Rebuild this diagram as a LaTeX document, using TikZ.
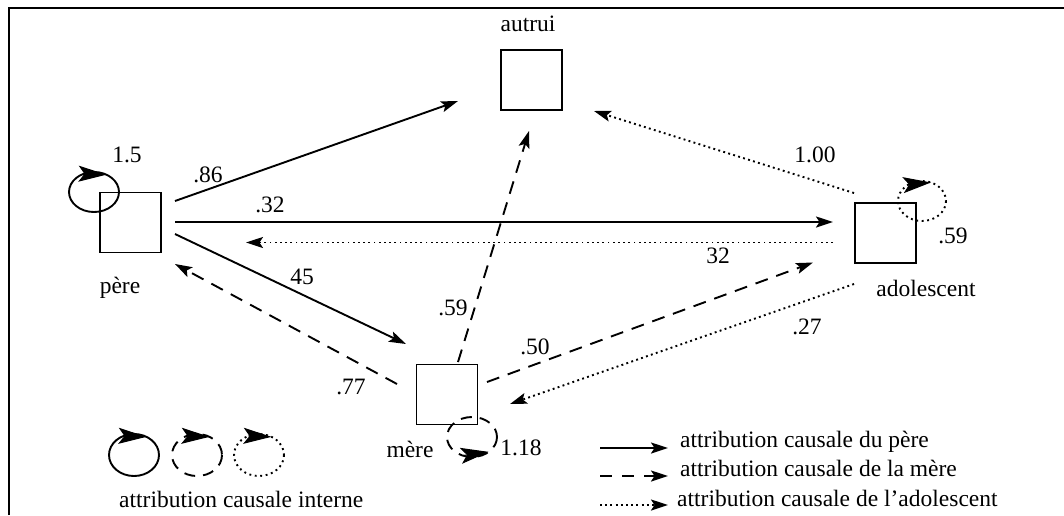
\documentclass[tikz,border=0pt]{standalone}
\usepackage{fontspec}
\setmainfont{Liberation Serif}
\usetikzlibrary{arrows.meta,calc}
\begin{document}
\begin{tikzpicture}[x=1pt,y=-1pt,
  box/.style={draw, line width=1.9pt, minimum width=61pt, minimum height=60pt, inner sep=0pt},
  lbl/.style={inner sep=0pt, font=\fontsize{23.5}{27}\selectfont},
  tipped/.style={-{Stealth[length=17pt,width=11pt,inset=3.5pt]}},
  pline/.style={tipped, line width=1.9pt},
  mline/.style={tipped, line width=1.9pt, dash pattern=on 13pt off 9pt},
  aline/.style={tipped, line width=1.9pt, dash pattern=on 1.9pt off 3.3pt},
  ploop/.style={line width=1.9pt},
  mloop/.style={line width=1.9pt, dash pattern=on 11pt off 8pt},
  aloop/.style={line width=1.9pt, dash pattern=on 1.9pt off 3.6pt},
  loophead/.style={-{Stealth[length=28pt,width=16pt,inset=6pt]}, line width=1pt},
]
\useasboundingbox (0,0) rectangle (1064,515);

% frame
\draw[line width=1.6pt] (9,515) -- (9,8) -- (1064,8);

% boxes
\node[box] (autrui) at (531.5,80) {};
\node[box] (pere) at (130.5,222.5) {};
\node[box] (ado) at (885.5,233) {};
\node[box] (mere) at (447,394.5) {};

% box names
\node[lbl, anchor=base] (t-autrui) at (528,31) {autrui};
\node[lbl, anchor=base] (t-pere) at (120,293) {père};
\node[lbl, anchor=base] (t-ado) at (926,296) {adolescent};
\node[lbl, anchor=base] (t-mere) at (410,457) {mère};

% father's attributions
\draw[pline] ($(pere)+(44.5,-21.5)$) -- ($(autrui)+(-73.5,21)$);
\draw[pline] ($(pere)+(44.5,-0.5)$) -- ($(ado)+(-52.5,-11)$);
\draw[pline] ($(pere)+(44.5,11.5)$) -- ($(mere)+(-41,-50.5)$);

% mother's attributions
\draw[mline] ($(mere)+(-50,-10.5)$) -- ($(pere)+(44.5,41.5)$);
\draw[mline] ($(mere)+(11,-32.5)$) -- ($(autrui)+(-2.5,51)$);
\draw[mline] ($(mere)+(40,-12.5)$) -- ($(ado)+(-72.5,29.5)$);

% adolescent's attributions
\draw[aline] ($(ado)+(-52.5,9.5)$) -- ($(pere)+(115.5,20)$);
\draw[aline] ($(ado)+(-31.5,51)$) -- ($(mere)+(63,9.5)$);
\draw[aline] ($(ado)+(-31.5,-40)$) -- ($(autrui)+(62.5,31)$);

% internal attribution loops, each with its head drawn along a chord
\coordinate (pl) at (94,192);
\draw[ploop] (pl) ellipse[x radius=25, y radius=20];
\draw[loophead] ($(pl)+(245:25 and 20)$) -- ($(pl)+(300:25 and 20)$);
\coordinate (al) at (922,201);
\draw[aloop] (al) ellipse[x radius=24, y radius=20];
\draw[loophead] ($(al)+(235:24 and 20)$) -- ($(al)+(292:24 and 20)$);
\coordinate (ml) at (472,437);
\draw[mloop] (ml) ellipse[x radius=25, y radius=20];
\draw[loophead] ($(ml)+(112:25 and 20)$) -- ($(ml)+(48:25 and 20)$);

% coefficients
\node[lbl] (c-pl) at (127,155) {1.5};
\node[lbl] (c-pa) at (208,175) {.86};
\node[lbl] (c-pd) at (270,205) {.32};
\node[lbl] (c-dp) at (718,256) {32};
\node[lbl] (c-pm) at (302,277) {45};
\node[lbl] (c-ma) at (453,308) {.59};
\node[lbl] (c-md) at (535,347) {.50};
\node[lbl] (c-dm) at (807,327) {.27};
\node[lbl] (c-da) at (815,155) {1.00};
\node[lbl] (c-mp) at (351,387) {.77};
\node[lbl] (c-dl) at (953,236) {.59};
\node[lbl] (c-ml) at (521,448) {1.18};

% legend: loops
\coordinate (g1) at (134,455);
\coordinate (g2) at (197,455);
\coordinate (g3) at (259,455);
\draw[ploop] (g1) ellipse[x radius=25, y radius=21];
\draw[mloop] (g2) ellipse[x radius=25, y radius=21];
\draw[aloop] (g3) ellipse[x radius=25, y radius=21];
\foreach \g in {g1,g2,g3}
  \draw[loophead] ($(\g)+(245:25 and 21)$) -- ($(\g)+(300:25 and 21)$);
\node[lbl, anchor=base west] (t-int) at (119,507) {attribution causale interne};

% legend: line styles
\coordinate (l1a) at (600,448); \coordinate (l1b) at (668,448);
\coordinate (l2a) at (600,476); \coordinate (l2b) at (668,476);
\coordinate (l3a) at (600,505); \coordinate (l3b) at (668,505);
\draw[pline] (l1a) -- (l1b);
\draw[mline, dash pattern=on 12pt off 10pt] (l2a) -- (l2b);
\draw[aline] (l3a) -- (l3b);
\node[lbl, anchor=base west] (t-l1) at (680,447) {attribution causale du père};
\node[lbl, anchor=base west] (t-l2) at (680,476) {attribution causale de la mère};
\node[lbl, anchor=base west] (t-l3) at (677,506) {attribution causale de l’adolescent};
\end{tikzpicture}
\end{document}
